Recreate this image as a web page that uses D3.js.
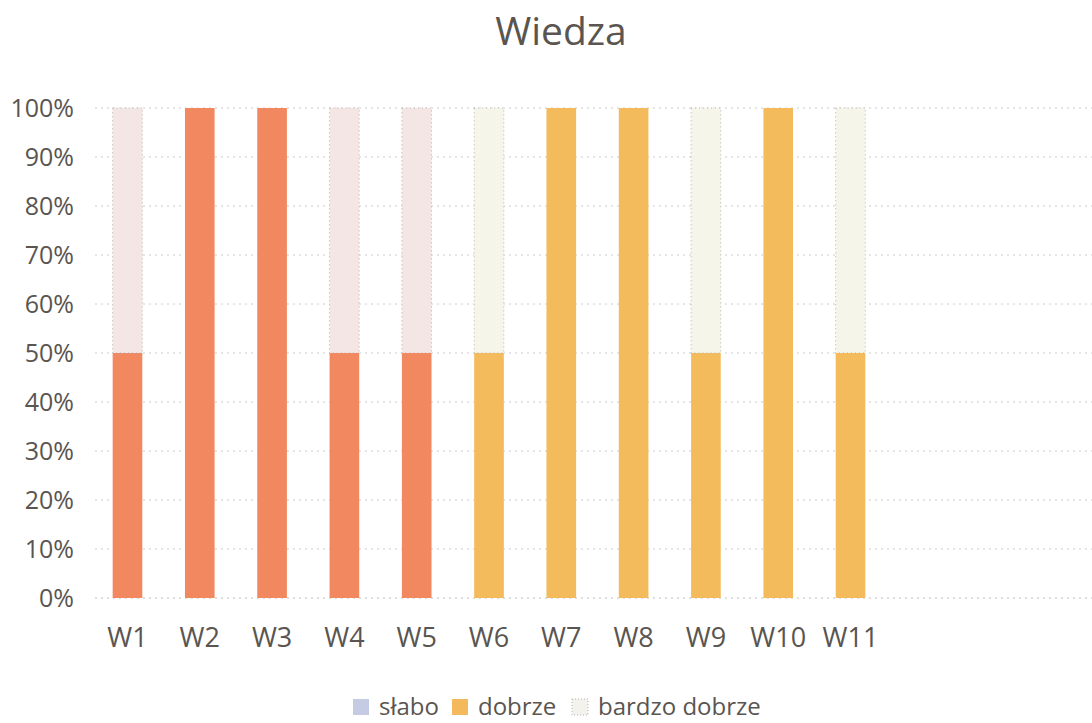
<!DOCTYPE html>
<html lang="pl">
<head>
<meta charset="UTF-8">
<title>Wiedza</title>
<script src="https://d3js.org/d3.v7.min.js"></script>
<style>
  body { margin: 0; background: #fff; }
  text { font-family: "Open Sans", "Noto Sans", sans-serif; fill: #5a5550; }
</style>
</head>
<body>
<svg id="chart" width="1092" height="723"></svg>
<script>
// data
var categories = ["W1", "W2", "W3", "W4", "W5", "W6", "W7", "W8", "W9", "W10", "W11"];
var slabo = [0, 0, 0, 0, 0, 0, 0, 0, 0, 0, 0];
var dobrze = [50, 100, 100, 50, 50, 50, 100, 100, 50, 100, 50];
var bardzoDobrze = [50, 0, 0, 50, 50, 50, 0, 0, 50, 0, 50];
var seriesNames = ["słabo", "dobrze", "bardzo dobrze"];
var yTicks = [0, 10, 20, 30, 40, 50, 60, 70, 80, 90, 100];

var svg = d3.select("#chart");

var x = d3.scaleBand()
    .domain(categories)
    .range([70, 908])
    .paddingInner(0.59)
    .paddingOuter(0.59);

var y = d3.scaleLinear()
    .domain([0, 100])
    .range([598, 108]);

// colours (the scan shifts tone between first and second half)
function fillFor(series, i) {
  if (series == 0) return "#c5cbe3";
  if (series == 1) return i < 5 ? "#f2885f" : "#f4bb5c";
  return i < 5 ? "#f4e6e4" : "#f6f5ea";
}

// title
svg.append("text")
    .attr("x", 561)
    .attr("y", 45)
    .attr("text-anchor", "middle")
    .style("font-size", "39px")
    .text("Wiedza");

// gridlines
svg.append("g").selectAll("line")
    .data(yTicks)
    .enter().append("line")
    .attr("x1", 95)
    .attr("x2", 1092)
    .attr("y1", function(d) { return y(d); })
    .attr("y2", function(d) { return y(d); })
    .attr("stroke", function(d) { return d == 0 ? "#bdbdbd" : "#cccccc"; })
    .attr("stroke-dasharray", "2,4");

// y labels
var yAxis = d3.axisLeft(y)
    .tickValues(yTicks)
    .tickFormat(function(d) { return d + "%"; })
    .tickSize(0)
    .tickPadding(0);

var gy = svg.append("g")
    .attr("transform", "translate(74,0)")
    .call(yAxis);
gy.select(".domain").remove();
gy.selectAll("text")
    .style("font-size", "25px")
    .style("fill", "#5a5550")
    .style("font-family", "'Open Sans', sans-serif");

// x labels
var xAxis = d3.axisBottom(x).tickSize(0).tickPadding(0);
var gx = svg.append("g")
    .attr("transform", "translate(0,647)")
    .call(xAxis);
gx.select(".domain").remove();
gx.selectAll("text")
    .attr("dy", 0)
    .attr("y", 0)
    .style("font-size", "27px")
    .style("fill", "#5a5550")
    .style("font-family", "'Open Sans', sans-serif");

// stacked bars
var rows = categories.map(function(c, i) {
  return { cat: c, i: i, slabo: slabo[i], dobrze: dobrze[i], bardzo: bardzoDobrze[i] };
});
var stack = d3.stack().keys(["slabo", "dobrze", "bardzo"]);
var layers = stack(rows);

layers.forEach(function(layer, s) {
  svg.append("g").selectAll("rect")
      .data(layer.filter(function(d) { return d[1] - d[0] > 0; }))
      .enter().append("rect")
      .attr("x", function(d) { return x(d.data.cat); })
      .attr("width", x.bandwidth())
      .attr("y", function(d) { return y(d[1]); })
      .attr("height", function(d) { return y(d[0]) - y(d[1]); })
      .attr("fill", function(d) { return fillFor(s, d.data.i); })
      .attr("stroke", s == 2 ? "#b8b0b0" : "none")
      .attr("stroke-width", s == 2 ? 1 : 0)
      .attr("stroke-dasharray", s == 2 ? "1,3" : null);
});

// legend
var legendX = [353, 452, 572];
var legendFill = ["#c5cbe3", "#f4b95c", "#f3f2ec"];
var legend = svg.append("g");
seriesNames.forEach(function(name, k) {
  legend.append("rect")
      .attr("x", legendX[k])
      .attr("y", 699)
      .attr("width", 16)
      .attr("height", 16)
      .attr("fill", legendFill[k])
      .attr("stroke", k == 2 ? "#b8b0b0" : "none")
      .attr("stroke-dasharray", k == 2 ? "1,2" : null);
  legend.append("text")
      .attr("x", legendX[k] + 26)
      .attr("y", 715)
      .style("font-size", "24px")
      .text(name);
});
</script>
</body>
</html>
